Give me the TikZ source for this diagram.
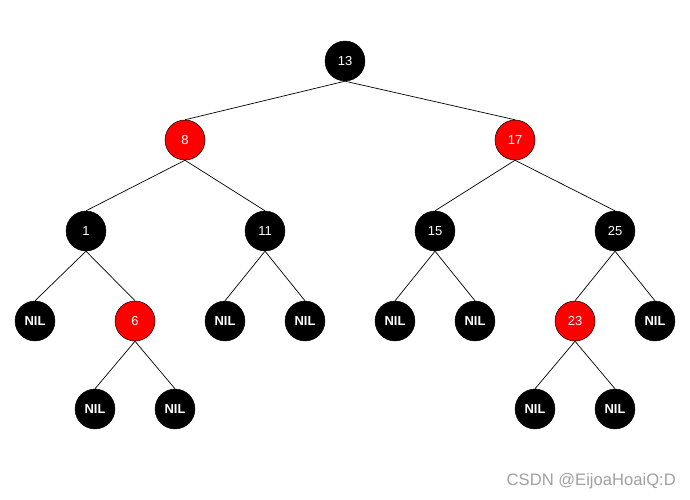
\documentclass[tikz,border=0pt]{standalone}
\usepackage{fontspec}
\setmainfont{Liberation Sans}
\definecolor{rbred}{RGB}{255,0,0}
\definecolor{wm}{RGB}{160,160,160}
\begin{document}
\begin{tikzpicture}[x=1pt,y=-1pt,
  nd/.style={circle,minimum size=40pt,inner sep=0pt,text=white,font=\fontsize{13}{15}\selectfont},
  blk/.style={nd,fill=black,draw=black},
  redn/.style={nd,fill=rbred,draw=black,line width=0.5pt},
  nil/.style={blk,font=\fontsize{13}{15}\selectfont\bfseries},
  edge/.style={draw=black,line width=0.7pt}]
\useasboundingbox (0,0) rectangle (690,500);
\node[blk]  (n13) at (345,61) {13};
\node[redn] (n8)  at (185,140) {8};
\node[redn] (n17) at (515,140) {17};
\node[blk]  (n1)  at (86,231) {1};
\node[blk]  (n11) at (265,231) {11};
\node[blk]  (n15) at (435,231) {15};
\node[blk]  (n25) at (615,231) {25};
\node[nil]  (nl1) at (35,321) {NIL};
\node[redn] (n6)  at (135,321) {6};
\node[nil]  (nl2) at (225,321) {NIL};
\node[nil]  (nl3) at (305,321) {NIL};
\node[nil]  (nl4) at (395,321) {NIL};
\node[nil]  (nl5) at (475,321) {NIL};
\node[redn] (n23) at (575,321) {23};
\node[nil]  (nl6) at (655,321) {NIL};
\node[nil]  (nl7) at (95,409) {NIL};
\node[nil]  (nl8) at (175,409) {NIL};
\node[nil]  (nl9) at (535,409) {NIL};
\node[nil]  (nl10) at (615,409) {NIL};
\draw[edge] (n13.south) -- (n8.north);
\draw[edge] (n13.south) -- (n17.north);
\draw[edge] (n8.south) -- (n1.north);
\draw[edge] (n8.south) -- (n11.north);
\draw[edge] (n17.south) -- (n15.north);
\draw[edge] (n17.south) -- (n25.north);
\draw[edge] (n1.south) -- (nl1.north);
\draw[edge] (n1.south) -- (n6.north);
\draw[edge] (n11.south) -- (nl2.north);
\draw[edge] (n11.south) -- (nl3.north);
\draw[edge] (n15.south) -- (nl4.north);
\draw[edge] (n15.south) -- (nl5.north);
\draw[edge] (n25.south) -- (n23.north);
\draw[edge] (n25.south) -- (nl6.north);
\draw[edge] (n6.south) -- (nl7.north);
\draw[edge] (n6.south) -- (nl8.north);
\draw[edge] (n23.south) -- (nl9.north);
\draw[edge] (n23.south) -- (nl10.north);
\node[anchor=east,text=wm,font=\fontsize{16.6}{18}\selectfont,inner sep=0pt] (wmk) at (676,481) {CSDN @EijoaHoaiQ:D};
\end{tikzpicture}
\end{document}
